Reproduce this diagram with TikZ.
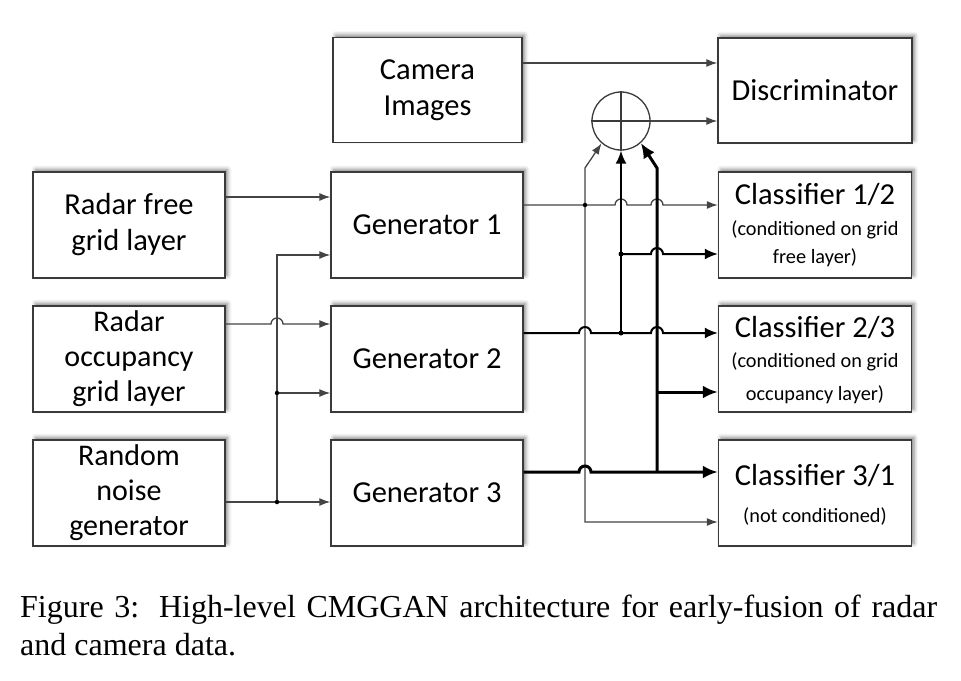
\documentclass[tikz,border=0pt]{standalone}
\usepackage{fontspec}
\setmainfont{Carlito}
\newfontfamily\capfont{Liberation Serif}
\usetikzlibrary{arrows.meta,shadows.blur}
\definecolor{boxgray}{HTML}{3A3A3A}
\definecolor{wiregray}{HTML}{444444}
\tikzset{
  box/.style={draw=boxgray, line width=1.4pt, fill=white, inner sep=0pt,
    minimum width=192pt, minimum height=106pt,
    blur shadow={shadow xshift=2.5pt, shadow yshift=2.5pt, shadow blur radius=4pt, shadow opacity=50}},
  big/.style={font=\fontsize{30.5}{36}\selectfont, align=center},
  big3/.style={font=\fontsize{30}{35}\selectfont, align=center},
  ttl/.style={font=\fontsize{30.5}{36}\selectfont, inner sep=0pt, anchor=base},
  sml/.style={font=\fontsize{20.3}{24}\selectfont, inner sep=0pt, anchor=base},
  tipS/.tip={Latex[length=11pt,width=8pt]},
  tipM/.tip={Latex[length=13pt,width=11pt]},
  tipL/.tip={Latex[length=15pt,width=13pt]},
  thinw/.style={draw=wiregray, line width=1.3pt, -tipS},
  midw/.style={draw=black, line width=2pt, -tipM},
  thkw/.style={draw=black, line width=3pt, -tipL},
  jdot/.style={circle, fill=black, inner sep=0pt, minimum size=5pt},
}
\begin{document}
\begin{tikzpicture}[x=1pt,y=-1pt]
\useasboundingbox (0,0) rectangle (961,680);

% boxes
\node[box, big, minimum width=189pt, minimum height=105pt] (cam) at (427.5,90) {Camera\\Images};
\node[box, big, minimum width=194pt, minimum height=105pt] (disc) at (815,90.5) {Discriminator};
\node[box, big] (rf) at (129,225) {Radar free\\grid layer};
\node[box, big3] (ro) at (129,359) {Radar\\occupancy\\grid layer};
\node[box, big3] (rn) at (129,493) {Random\\noise\\generator};
\node[box, big] (g1) at (427,225) {Generator 1};
\node[box, big] (g2) at (427,359) {Generator 2};
\node[box, big] (g3) at (427,493) {Generator 3};
\node[box, minimum width=193pt] (c12) at (815,225) {};
\node[box, minimum width=193pt] (c23) at (815,359) {};
\node[box, minimum width=193pt] (c31) at (815,493) {};

% classifier texts
\node[ttl] (c12a) at (815,204) {Classifier 1/2};
\node[sml] (c12b) at (815,235) {(conditioned on grid};
\node[sml] (c12c) at (815,263) {free layer)};
\node[ttl] (c23a) at (815,337) {Classifier 2/3};
\node[sml] (c23b) at (815,367) {(conditioned on grid};
\node[sml] (c23c) at (815,400) {occupancy layer)};
\node[ttl] (c31a) at (815,485) {Classifier 3/1};
\node[sml] (c31b) at (815,522) {(not conditioned)};

% summing junction
\node[circle, draw=boxgray, line width=1.3pt, minimum size=58pt, inner sep=0pt] (sum) at (621,121) {};
\draw[draw=boxgray, line width=1.2pt] (sum.north) -- (sum.south);
\draw[draw=boxgray, line width=1.2pt] (sum.west) -- (sum.east);

% helper coordinates
\coordinate (na) at (277,502);
\coordinate (nb) at (277,393);
\coordinate (nc) at (277,255);
\coordinate (ta) at (585,205);
\coordinate (tb) at (585,168);
\coordinate (tc) at (585,522);
\coordinate (ma) at (621,333);
\coordinate (mb) at (621,254);
\coordinate (ka) at (657,472);
\coordinate (kb) at (657,168);
\coordinate (kc) at (657,392);

% left wiring
\draw[thinw] (rf.east |- 0,197) -- (g1.west |- 0,197);
\draw[thinw] (ro.east |- 0,324) -- (271,324) arc[start angle=180, end angle=360, radius=6] -- (g2.west |- 0,324);
\draw[thinw] (rn.east |- na) -- (g3.west |- na);
\draw[thinw] (na) -- (nc) -- (g1.west |- nc);
\draw[thinw] (nb) -- (g2.west |- nb);
\node[jdot, minimum size=4.5pt] (d1) at (na) {};
\node[jdot, minimum size=4.5pt] (d2) at (nb) {};

% top wiring
\draw[thinw] (cam.east |- 0,63) -- (disc.west |- 0,63);
\draw[thinw] (sum.east) -- (disc.west |- sum.east);

% thin: generator 1
\draw[thinw, tipS-tipS] (sum.229) -- (tb) -- (tc) -- (c31.west |- tc);
\draw[thinw] (g1.east |- ta) -- (615,205) arc[start angle=180, end angle=360, radius=6]
  -- (651,205) arc[start angle=180, end angle=360, radius=6] -- (c12.west |- ta);
\node[jdot, minimum size=4.5pt] (d3) at (ta) {};

% medium: generator 2
\draw[midw] (ma) -- (sum.south);
\draw[midw] (mb) -- (651,254) arc[start angle=180, end angle=360, radius=6] -- (c12.west |- mb);
\draw[midw] (g2.east |- ma) -- (579,333) arc[start angle=180, end angle=360, radius=6]
  -- (651,333) arc[start angle=180, end angle=360, radius=6] -- (c23.west |- ma);
\node[jdot] (d4) at (ma) {};
\node[jdot] (d5) at (mb) {};

% thick: generator 3
\draw[thkw] (ka) -- (kb) -- (sum.312);
\draw[thkw] (kc) -- (c23.west |- kc);
\draw[thkw] (g3.east |- ka) -- (579,472) arc[start angle=180, end angle=360, radius=6] -- (c31.west |- ka);

% caption
\node[anchor=base west, inner sep=0pt, font=\capfont\fontsize{32}{38}\selectfont] (cap) at (20,617)
  {\parbox[t]{917pt}{Figure 3:\hspace{0.12em} High-level CMGGAN architecture for early-fusion of radar\linebreak and camera data.}};
\end{tikzpicture}
\end{document}
